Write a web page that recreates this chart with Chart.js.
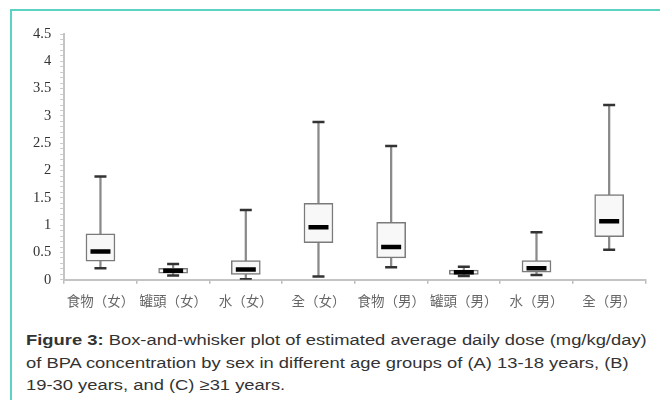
<!DOCTYPE html>
<html>
<head>
<meta charset="utf-8">
<script src="https://cdn.jsdelivr.net/npm/chart.js@4"></script>
<style>
  html, body { margin: 0; padding: 0; background: #fff; overflow: hidden; }
  body { width: 660px; height: 400px; position: relative; }
  .frame {
    position: absolute; left: 10px; top: 9px; width: 720px; height: 440px;
    border: 2px solid #5cd2c2; box-sizing: border-box;
  }
  .wrap { position: absolute; left: 0; top: 0; width: 660px; height: 319px; }
  .caption {
    position: absolute; left: 26px; top: 329px; white-space: nowrap;
    font-family: "Liberation Sans", Arial, sans-serif; font-size: 15.5px;
    line-height: 22.5px; color: #333;
    transform: scaleX(1.185); transform-origin: 0 0;
  }
</style>
</head>
<body>
<div class="frame"></div>
<div class="wrap"><canvas id="boxChart"></canvas></div>
<div class="caption"><b>Figure 3:</b> Box-and-whisker plot of estimated average daily dose (mg/kg/day)<br>of BPA concentration by sex in different age groups of (A) 13-18 years, (B)<br>19-30 years, and (C) ≥31 years.</div>
<script>
// categories and five-number summaries
const categories = ['食物（女）', '罐頭（女）', '水（女）', '全（女）', '食物（男）', '罐頭（男）', '水（男）', '全（男）'];
const mins    = [0.21, 0.08, 0.01, 0.06, 0.23, 0.07, 0.09, 0.55];
const q1s     = [0.34, 0.12, 0.10, 0.68, 0.40, 0.10, 0.14, 0.79];
const medians = [0.52, 0.165, 0.19, 0.96, 0.60, 0.14, 0.21, 1.07];
const q3s     = [0.84, 0.21, 0.35, 1.40, 1.05, 0.18, 0.35, 1.56];
const maxs    = [1.89, 0.29, 1.28, 2.89, 2.45, 0.24, 0.87, 3.20];
const yTickLabels = ['0', '0.5', '1', '1.5', '2', '2.5', '3', '3.5', '4', '4.5'];

const whiskers = mins.map((v, i) => [v, maxs[i]]);
const boxes = q1s.map((v, i) => [v, q3s[i]]);

const ctx = document.getElementById('boxChart').getContext('2d');
new Chart(ctx, {
  type: 'bar',
  data: {
    labels: categories,
    datasets: [
      {
        data: whiskers,
        backgroundColor: '#8a8a8a',
        barThickness: 1.6,
        grouped: false,
        order: 4
      },
      {
        data: boxes,
        backgroundColor: '#f8f8f8',
        borderColor: '#7a7a7a',
        borderWidth: 1.5,
        borderSkipped: false,
        barThickness: 29,
        grouped: false,
        order: 3
      },
      {
        type: 'line',
        data: mins,
        showLine: false,
        pointStyle: 'line',
        pointRadius: 6,
        pointBorderWidth: 2.5,
        pointBorderColor: '#333',
        order: 2
      },
      {
        type: 'line',
        data: maxs,
        showLine: false,
        pointStyle: 'line',
        pointRadius: 6,
        pointBorderWidth: 2.5,
        pointBorderColor: '#333',
        order: 2
      },
      {
        type: 'line',
        data: medians,
        showLine: false,
        pointStyle: 'line',
        pointRadius: 10,
        pointBorderWidth: 4.5,
        pointBorderColor: '#000',
        order: 1
      }
    ]
  },
  options: {
    responsive: true,
    maintainAspectRatio: false,
    animation: false,
    events: [],
    layout: { padding: { top: 34, right: 2, left: 24, bottom: 1 } },
    plugins: {
      legend: { display: false },
      tooltip: { enabled: false }
    },
    scales: {
      x: {
        grid: { drawOnChartArea: false, tickLength: 4, color: '#bbb', lineWidth: 1.5 },
        border: { color: '#c4c4c4', width: 2 },
        ticks: {
          color: '#666',
          padding: 9,
          maxRotation: 0,
          autoSkip: false,
          font: { family: '"Noto Sans CJK TC", "Noto Sans CJK SC", serif', size: 13.5 }
        }
      },
      y: {
        min: 0,
        max: 4.5,
        grid: { drawOnChartArea: false, tickLength: 4, color: '#ccc' },
        border: { color: '#c4c4c4', width: 2 },
        ticks: {
          stepSize: 0.1,
          autoSkip: false,
          color: '#333',
          padding: 9,
          font: { family: '"Liberation Serif", "DejaVu Serif", serif', size: 14.5 },
          callback: (v) => {
            const k = Math.round(v * 10);
            return k % 5 === 0 ? yTickLabels[k / 5] : '';
          }
        }
      }
    }
  }
});
</script>
</body>
</html>
